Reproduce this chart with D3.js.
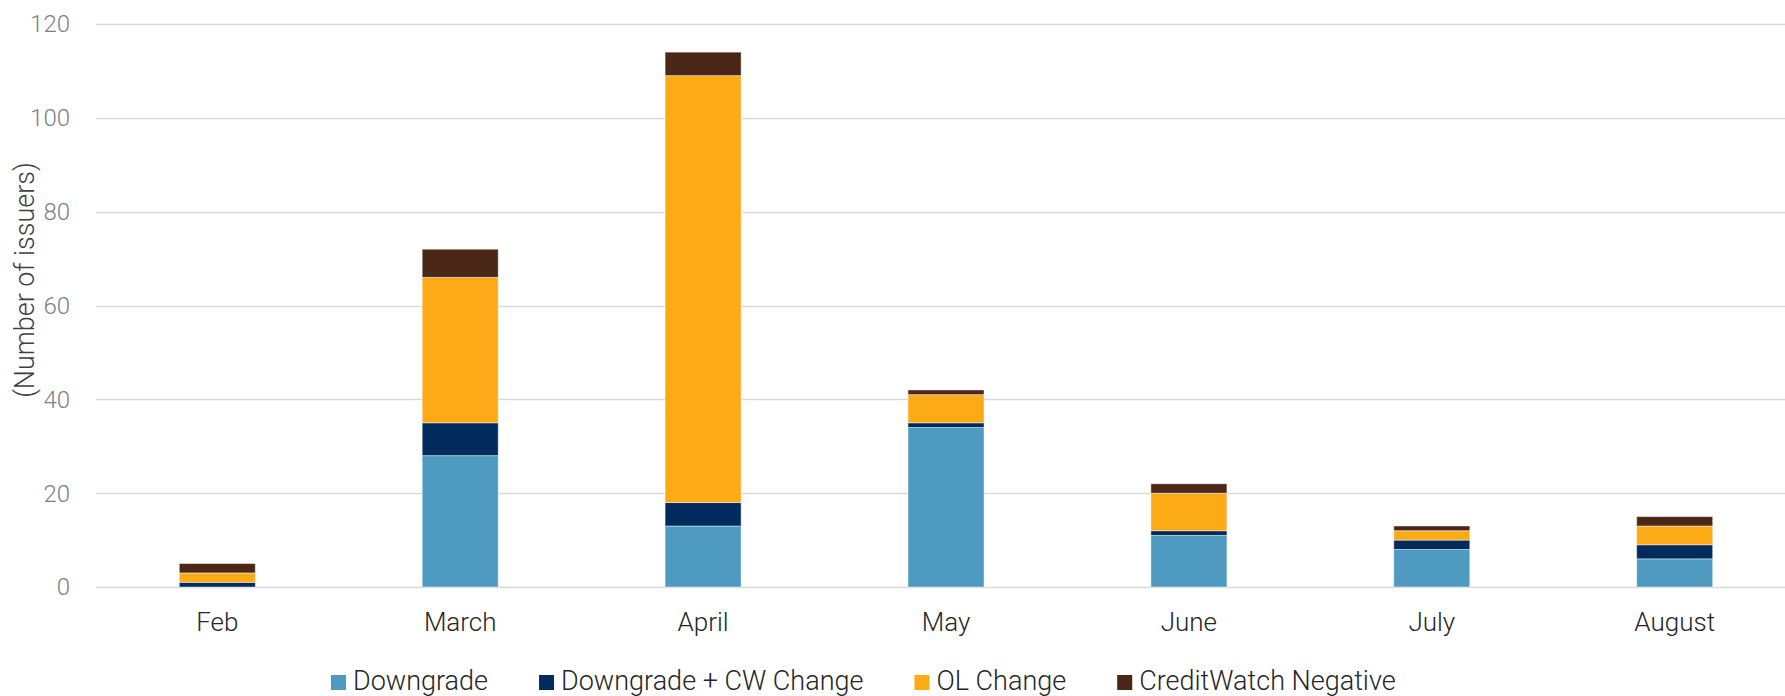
<!DOCTYPE html>
<html>
<head>
<meta charset="utf-8">
<script src="https://cdn.jsdelivr.net/npm/d3@7"></script>
<style>
	html, body { margin: 0; padding: 0; background: #fff; }
	svg { display: block; font-family: Roboto, 'Noto Sans', sans-serif; }
</style>
</head>
<body>
<svg id="chart" width="1785" height="696"></svg>
<script>
const months = ['Feb', 'March', 'April', 'May', 'June', 'July', 'August'];
const seriesNames = ['Downgrade', 'Downgrade + CW Change', 'OL Change', 'CreditWatch Negative'];
const downgrade = [0, 28, 13, 34, 11, 8, 6];
const downgradeCW = [1, 7, 5, 1, 1, 2, 3];
const olChange = [2, 31, 91, 6, 8, 2, 4];
const cwNegative = [2, 6, 5, 1, 2, 1, 2];
const seriesColors = ['#4F9AC1', '#002B5C', '#FDAA17', '#4A2716'];
const yTicks = [0, 20, 40, 60, 80, 100, 120];

const svg = d3.select('#chart');
const W = 1785;

// plot area; the category band runs a bit past the right edge like the original
const plotLeft = 96, plotRight = 1796, plotTop = 24, plotBottom = 587;

const x = d3.scaleBand().domain(months).range([plotLeft, plotRight]).paddingInner(0.687).paddingOuter(0.343);
const y = d3.scaleLinear().domain([0, 120]).range([plotBottom, plotTop]);

const rows = months.map((m, i) => ({
	month: m,
	'Downgrade': downgrade[i],
	'Downgrade + CW Change': downgradeCW[i],
	'OL Change': olChange[i],
	'CreditWatch Negative': cwNegative[i]
}));
const stacked = d3.stack().keys(seriesNames)(rows);

// grid lines
svg.append('g')
	.selectAll('line')
	.data(yTicks)
	.join('line')
	.attr('x1', plotLeft)
	.attr('x2', W)
	.attr('y1', d => Math.round(y(d)) + 0.5)
	.attr('y2', d => Math.round(y(d)) + 0.5)
	.attr('stroke', '#d9d9d9')
	.attr('stroke-width', 1.5);

// y tick labels
svg.append('g')
	.selectAll('text')
	.data(yTicks)
	.join('text')
	.attr('x', 70)
	.attr('y', d => y(d))
	.attr('dy', '0.35em')
	.attr('text-anchor', 'end')
	.attr('font-size', 24)
	.attr('font-weight', 300)
	.attr('fill', '#7f7f7f')
	.text(d => d);

// y axis title
svg.append('text')
	.attr('transform', 'translate(34, 280) rotate(-90)')
	.attr('text-anchor', 'middle')
	.attr('font-size', 27)
	.attr('font-weight', 300)
	.attr('fill', '#404040')
	.text('(Number of issuers)');

// bars
svg.append('g')
	.selectAll('g')
	.data(stacked)
	.join('g')
	.attr('fill', (d, i) => seriesColors[i])
	.selectAll('rect')
	.data(d => d)
	.join('rect')
	.attr('x', d => x(d.data.month))
	.attr('width', x.bandwidth())
	.attr('y', d => y(d[1]))
	.attr('height', d => y(d[0]) - y(d[1]))
	.attr('stroke', 'rgba(255,255,255,0.45)')
	.attr('stroke-width', 1);

// x labels
svg.append('g')
	.selectAll('text')
	.data(months)
	.join('text')
	.attr('x', d => x(d) + x.bandwidth() / 2)
	.attr('y', 631)
	.attr('text-anchor', 'middle')
	.attr('font-size', 26)
	.attr('font-weight', 300)
	.attr('fill', '#262626')
	.text(d => d);

// legend
const legend = svg.append('g');
let lx = 331;
seriesNames.forEach((name, i) => {
	legend.append('rect')
		.attr('x', lx)
		.attr('y', 675)
		.attr('width', 15)
		.attr('height', 15)
		.attr('fill', seriesColors[i]);
	const t = legend.append('text')
		.attr('x', lx + 22)
		.attr('y', 690)
		.attr('font-size', 27)
		.attr('font-weight', 300)
		.attr('fill', '#262626')
		.text(name);
	lx += 22 + t.node().getComputedTextLength() + 51;
});
</script>
</body>
</html>
